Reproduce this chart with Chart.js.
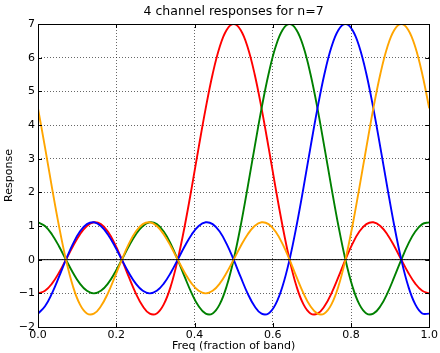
<!DOCTYPE html>
<html>
<head>
<meta charset="utf-8">
<script src="https://cdn.jsdelivr.net/npm/chart.js@4"></script>
<style>
  html, body { margin: 0; padding: 0; background: #fff; }
  canvas { display: block; }
</style>
</head>
<body>
<canvas id="myChart" width="440" height="353"></canvas>
<script>
// frequency (fraction of band)
const freq = [0, 0.0179, 0.0357, 0.0536, 0.0714, 0.0893, 0.1071, 0.125, 0.1429, 0.1607,
  0.1786, 0.1964, 0.2143, 0.2321, 0.25, 0.2679, 0.2857, 0.3036, 0.3214, 0.3393,
  0.3571, 0.375, 0.3929, 0.4107, 0.4286, 0.4464, 0.4643, 0.4821, 0.5, 0.5179,
  0.5357, 0.5536, 0.5714, 0.5893, 0.6071, 0.625, 0.6429, 0.6607, 0.6786, 0.6964,
  0.7143, 0.7321, 0.75, 0.7679, 0.7857, 0.8036, 0.8214, 0.8393, 0.8571, 0.875,
  0.8929, 0.9107, 0.9286, 0.9464, 0.9643, 0.9821, 1.0];

const red = [-1.000, -0.925, -0.712, -0.388, 0, 0.398, 0.749, 1.000, 1.110, 1.055,
  0.835, 0.469, 0, -0.513, -1.000, -1.386, -1.604, -1.597, -1.329, -0.791,
  0, 1.000, 2.141, 3.337, 4.494, 5.515, 6.316, 6.825, 7, 6.825,
  6.316, 5.515, 4.494, 3.337, 2.141, 1.000, 0, -0.791, -1.329, -1.597,
  -1.604, -1.386, -1.000, -0.513, 0, 0.469, 0.835, 1.055, 1.110, 1.000,
  0.749, 0.398, 0, -0.388, -0.712, -0.925, -1.000];

const green = [1.110, 1.000, 0.749, 0.398, 0, -0.388, -0.712, -0.925, -1.000, -0.925,
  -0.712, -0.388, 0, 0.398, 0.749, 1.000, 1.110, 1.055, 0.835, 0.469,
  0, -0.513, -1.000, -1.386, -1.604, -1.597, -1.329, -0.791, 0, 1.000,
  2.141, 3.337, 4.494, 5.515, 6.316, 6.825, 7, 6.825, 6.316, 5.515,
  4.494, 3.337, 2.141, 1.000, 0, -0.791, -1.329, -1.597, -1.604, -1.386,
  -1.000, -0.513, 0, 0.469, 0.835, 1.055, 1.110];

const blue = [-1.604, -1.386, -1.000, -0.513, 0, 0.469, 0.835, 1.055, 1.110, 1.000,
  0.749, 0.398, 0, -0.388, -0.712, -0.925, -1.000, -0.925, -0.712, -0.388,
  0, 0.398, 0.749, 1.000, 1.110, 1.055, 0.835, 0.469, 0, -0.513,
  -1.000, -1.386, -1.604, -1.597, -1.329, -0.791, 0, 1.000, 2.141, 3.337,
  4.494, 5.515, 6.316, 6.825, 7, 6.825, 6.316, 5.515, 4.494, 3.337,
  2.141, 1.000, 0, -0.791, -1.329, -1.597, -1.604];

const orange = [4.494, 3.337, 2.141, 1.000, 0, -0.791, -1.329, -1.597, -1.604, -1.386,
  -1.000, -0.513, 0, 0.469, 0.835, 1.055, 1.110, 1.000, 0.749, 0.398,
  0, -0.388, -0.712, -0.925, -1.000, -0.925, -0.712, -0.388, 0, 0.398,
  0.749, 1.000, 1.110, 1.055, 0.835, 0.469, 0, -0.513, -1.000, -1.386,
  -1.604, -1.597, -1.329, -0.791, 0, 1.000, 2.141, 3.337, 4.494, 5.515,
  6.316, 6.825, 7, 6.825, 6.316, 5.515, 4.494];

// horizontal zero line
const zeroX = [0, 1];
const zeroY = [0, 0];

const xTicks = ['0.0', '0.2', '0.4', '0.6', '0.8', '1.0'];
const yTicks = ['\u22122', '\u22121', '0', '1', '2', '3', '4', '5', '6', '7'];

const toXY = (xs, ys) => xs.map((x, i) => ({ x: x, y: ys[i] }));

Chart.defaults.font.family = 'DejaVu Sans';
Chart.defaults.color = '#000';

// frame + inward tick marks like matplotlib, title centred on the axes
const frame = {
  id: 'frame',
  afterLayout(chart) {
    const a = chart.chartArea;
    if (chart.titleBlock) {
      chart.titleBlock.left = a.left;
      chart.titleBlock.right = a.right;
    }
  },
  afterDraw(chart) {
    const ctx = chart.ctx;
    const a = chart.chartArea;
    const xs = chart.scales.x, ys = chart.scales.y;
    ctx.save();
    ctx.strokeStyle = '#000';
    ctx.lineWidth = 1;
    ctx.beginPath();
    xs.ticks.forEach(t => {
      const px = Math.round(xs.getPixelForValue(t.value)) + 0.5;
      ctx.moveTo(px, a.bottom); ctx.lineTo(px, a.bottom - 4);
      ctx.moveTo(px, a.top); ctx.lineTo(px, a.top + 4);
    });
    ys.ticks.forEach(t => {
      const py = Math.round(ys.getPixelForValue(t.value)) + 0.5;
      ctx.moveTo(a.left, py); ctx.lineTo(a.left + 4, py);
      ctx.moveTo(a.right, py); ctx.lineTo(a.right - 4, py);
    });
    ctx.stroke();
    ctx.strokeRect(Math.round(a.left) + 0.5, Math.round(a.top) + 0.5,
      Math.round(a.right - a.left), Math.round(a.bottom - a.top));
    ctx.restore();
  }
};

const line = (label, xs, ys, color, order, width) => ({
  label: label,
  data: toXY(xs, ys),
  borderColor: color,
  backgroundColor: color,
  borderWidth: width,
  pointRadius: 0,
  fill: false,
  tension: 0.4,
  order: order
});

const ctx = document.getElementById('myChart').getContext('2d');
const myChart = new Chart(ctx, {
  type: 'line',
  data: {
    datasets: [
      line('ch1', freq, red, '#ff0000', 4, 1.9),
      line('ch2', freq, green, '#008000', 3, 1.9),
      line('ch3', freq, blue, '#0000ff', 2, 1.9),
      line('ch4', freq, orange, '#ffa500', 1, 1.9),
      line('zero', zeroX, zeroY, '#000000', 0, 1)
    ]
  },
  options: {
    responsive: false,
    animation: false,
    layout: { padding: { left: 0, right: 10, top: 0, bottom: 0 } },
    plugins: {
      legend: { display: false },
      tooltip: { enabled: false },
      title: {
        display: true,
        text: '4 channel responses for n=7',
        font: { size: 12.5, weight: 'normal' },
        color: '#000',
        padding: { top: 4.5, bottom: 4.5 }
      }
    },
    scales: {
      x: {
        type: 'linear',
        min: 0,
        max: 1,
        afterFit: s => { s.height = 26; },
        ticks: {
          stepSize: 0.2,
          padding: 2,
          maxRotation: 0,
          font: { size: 11 },
          callback: (v, i) => xTicks[i]
        },
        grid: { color: 'rgba(0,0,0,0.75)', lineWidth: 0.8, drawTicks: false },
        border: { display: false, dash: [1, 2] },
        title: {
          display: true,
          text: 'Freq (fraction of band)',
          font: { size: 11 },
          padding: { top: 0, bottom: 0 }
        }
      },
      y: {
        min: -2,
        max: 7,
        afterFit: s => { s.width = 38; },
        ticks: {
          stepSize: 1,
          padding: 3,
          font: { size: 11 },
          callback: (v, i) => yTicks[i]
        },
        grid: { color: 'rgba(0,0,0,0.75)', lineWidth: 0.8, drawTicks: false },
        border: { display: false, dash: [1, 2] },
        title: {
          display: true,
          text: 'Response',
          font: { size: 11 },
          padding: { top: 3, bottom: 0 }
        }
      }
    }
  },
  plugins: [frame]
});
</script>
</body>
</html>
